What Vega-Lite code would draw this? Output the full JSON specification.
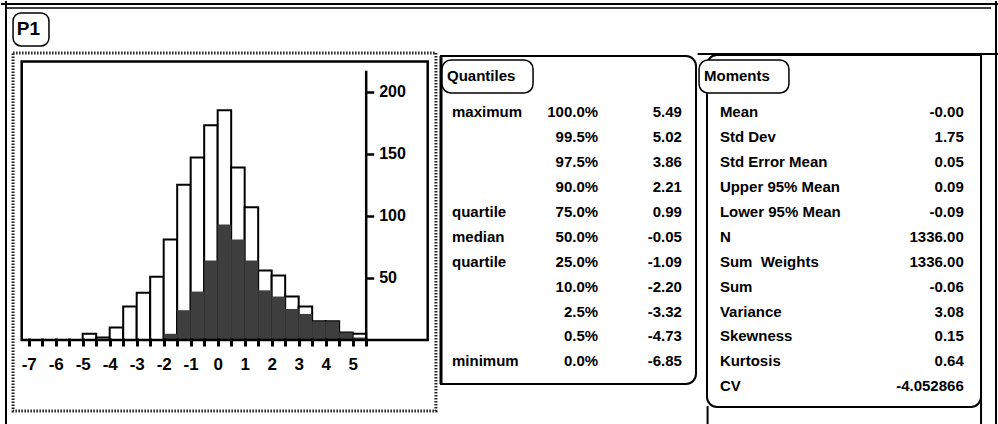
{
  "$schema": "https://vega.github.io/schema/vega-lite/v6.json",
  "width": 998,
  "height": 424,
  "autosize": {"type": "fit", "contains": "padding"},
  "padding": 0,
  "background": "white",
  "config": {
    "view": {"stroke": null},
    "font": "Liberation Sans",
    "mark": {"color": "black"},
    "text": {"font": "Liberation Sans", "color": "black"},
    "axis": {
      "labelFont": "Liberation Sans", "labelFontSize": 17, "labelFontWeight": "bold", "labelColor": "black",
      "tickColor": "black", "tickWidth": 3, "tickSize": 8,
      "domainColor": "black", "domainWidth": 2.5, "grid": false
    }
  },
  "datasets": {
    "hist": [
      {"bin_start": -5, "bin_end": -4.5, "count": 5, "shaded": 0},
      {"bin_start": -4.5, "bin_end": -4, "count": 2, "shaded": 0},
      {"bin_start": -4, "bin_end": -3.5, "count": 10, "shaded": 0},
      {"bin_start": -3.5, "bin_end": -3, "count": 27, "shaded": 0},
      {"bin_start": -3, "bin_end": -2.5, "count": 38, "shaded": 0},
      {"bin_start": -2.5, "bin_end": -2, "count": 51, "shaded": 0},
      {"bin_start": -2, "bin_end": -1.5, "count": 81, "shaded": 5},
      {"bin_start": -1.5, "bin_end": -1, "count": 125, "shaded": 24},
      {"bin_start": -1, "bin_end": -0.5, "count": 147, "shaded": 39},
      {"bin_start": -0.5, "bin_end": 0, "count": 173, "shaded": 64},
      {"bin_start": 0, "bin_end": 0.5, "count": 185, "shaded": 93},
      {"bin_start": 0.5, "bin_end": 1, "count": 139, "shaded": 81},
      {"bin_start": 1, "bin_end": 1.5, "count": 107, "shaded": 64},
      {"bin_start": 1.5, "bin_end": 2, "count": 56, "shaded": 40},
      {"bin_start": 2, "bin_end": 2.5, "count": 52, "shaded": 35},
      {"bin_start": 2.5, "bin_end": 3, "count": 35, "shaded": 25},
      {"bin_start": 3, "bin_end": 3.5, "count": 27, "shaded": 21},
      {"bin_start": 3.5, "bin_end": 4, "count": 15, "shaded": 15},
      {"bin_start": 4, "bin_end": 4.5, "count": 15, "shaded": 15},
      {"bin_start": 4.5, "bin_end": 5, "count": 6, "shaded": 6},
      {"bin_start": 5, "bin_end": 5.5, "count": 5, "shaded": 2}
    ],
    "quantiles": [
      {"i": 1, "label": "maximum", "pct": "100.0%", "value": "5.49"},
      {"i": 2, "label": "", "pct": "99.5%", "value": "5.02"},
      {"i": 3, "label": "", "pct": "97.5%", "value": "3.86"},
      {"i": 4, "label": "", "pct": "90.0%", "value": "2.21"},
      {"i": 5, "label": "quartile", "pct": "75.0%", "value": "0.99"},
      {"i": 6, "label": "median", "pct": "50.0%", "value": "-0.05"},
      {"i": 7, "label": "quartile", "pct": "25.0%", "value": "-1.09"},
      {"i": 8, "label": "", "pct": "10.0%", "value": "-2.20"},
      {"i": 9, "label": "", "pct": "2.5%", "value": "-3.32"},
      {"i": 10, "label": "", "pct": "0.5%", "value": "-4.73"},
      {"i": 11, "label": "minimum", "pct": "0.0%", "value": "-6.85"}
    ],
    "moments": [
      {"i": 1, "label": "Mean", "value": "-0.00"},
      {"i": 2, "label": "Std Dev", "value": "1.75"},
      {"i": 3, "label": "Std Error Mean", "value": "0.05"},
      {"i": 4, "label": "Upper 95% Mean", "value": "0.09"},
      {"i": 5, "label": "Lower 95% Mean", "value": "-0.09"},
      {"i": 6, "label": "N", "value": "1336.00"},
      {"i": 7, "label": "Sum\u00a0 Weights", "value": "1336.00"},
      {"i": 8, "label": "Sum", "value": "-0.06"},
      {"i": 9, "label": "Variance", "value": "3.08"},
      {"i": 10, "label": "Skewness", "value": "0.15"},
      {"i": 11, "label": "Kurtosis", "value": "0.64"},
      {"i": 12, "label": "CV", "value": "-4.052866"}
    ]
  },
  "layer": [
    {
      "data": {"name": "hist"},
      "mark": {"type": "rect", "fill": "white", "stroke": "black", "strokeWidth": 2},
      "encoding": {
        "x": {
          "field": "bin_start", "type": "quantitative",
          "scale": {"domain": [-7.26, 7.78], "range": [20.7, 426.7], "nice": false, "zero": false},
          "axis": {
            "orient": "bottom", "offset": -85, "title": null, "grid": false, "domain": false, "zindex": 2,
            "values": [-7, -6.5, -6, -5.5, -5, -4.5, -4, -3.5, -3, -2.5, -2, -1.5, -1, -0.5, 0, 0.5, 1, 1.5, 2, 2.5, 3, 3.5, 4, 4.5, 5, 5.5],
            "labelExpr": "datum.value % 1 === 0 ? toString(datum.value) : ''",
            "tickColor": "black", "tickWidth": 3, "tickSize": 8,
            "labelFont": "Liberation Sans", "labelFontSize": 17, "labelFontWeight": "bold", "labelColor": "black",
            "labelPadding": 10, "labelOverlap": false, "labelFlush": false
          }
        },
        "x2": {"field": "bin_end"},
        "y": {
          "field": "count", "type": "quantitative",
          "scale": {"domain": [0, 217.2], "range": [339, 69.3], "nice": false, "zero": false},
          "axis": {
            "orient": "right", "offset": -631.3, "title": null, "grid": false, "zindex": 2,
            "values": [50, 100, 150, 200],
            "domain": true, "domainColor": "black", "domainWidth": 2.5,
            "tickColor": "black", "tickWidth": 2.5, "tickSize": 8,
            "labelFont": "Liberation Sans", "labelFontSize": 16, "labelFontWeight": "bold", "labelColor": "black",
            "labelPadding": 5, "labelOverlap": false, "labelFlush": false
          }
        },
        "y2": {"datum": 0}
      }
    },
    {
      "data": {"name": "hist"},
      "transform": [{"filter": "datum.shaded > 0"}],
      "mark": {"type": "rect", "fill": "#3e3e3e"},
      "encoding": {
        "x": {"field": "bin_start", "type": "quantitative", "scale": {"domain": [-7.26, 7.78], "range": [20.7, 426.7], "nice": false, "zero": false}, "axis": null},
        "x2": {"field": "bin_end"},
        "y": {"field": "shaded", "type": "quantitative", "scale": {"domain": [0, 217.2], "range": [339, 69.3], "nice": false, "zero": false}, "axis": null},
        "y2": {"datum": 0}
      }
    },
    {
      "data": {"values": [{}]},
      "mark": {"type": "rect", "filled": false, "stroke": "black", "strokeWidth": 2.5},
      "encoding": {
        "x": {"datum": -7.26, "scale": {"domain": [-7.26, 7.78], "range": [20.7, 426.7], "nice": false, "zero": false}, "axis": null},
        "x2": {"datum": 7.78},
        "y": {"datum": 0, "scale": {"domain": [0, 217.2], "range": [339, 69.3], "nice": false, "zero": false}, "axis": null},
        "y2": {"datum": 224.2}
      }
    },
    {
      "data": {"values": [{}]},
      "mark": {"type": "rect", "filled": false, "stroke": "#222222", "strokeWidth": 3, "strokeDash": [1.5, 1.5]},
      "encoding": {
        "x": {"datum": -7.58, "scale": {"domain": [-7.26, 7.78], "range": [20.7, 426.7], "nice": false, "zero": false}, "axis": null},
        "x2": {"datum": 8.085},
        "y": {"datum": 231.2, "scale": {"domain": [0, 217.2], "range": [339, 69.3], "nice": false, "zero": false}, "axis": null},
        "y2": {"datum": -57.2}
      }
    },
    {
      "data": {"values": [{}]},
      "mark": {"type": "rect", "fill": "white", "stroke": "black", "strokeWidth": 1.5, "cornerRadius": 8},
      "encoding": {
        "x": {"datum": -7.58, "scale": {"domain": [-7.26, 7.78], "range": [20.7, 426.7], "nice": false, "zero": false}, "axis": null},
        "x2": {"datum": -6.25},
        "y": {"datum": 263.4, "scale": {"domain": [0, 217.2], "range": [339, 69.3], "nice": false, "zero": false}, "axis": null},
        "y2": {"datum": 236.8}
      }
    },
    {
      "data": {"values": [{}]},
      "mark": {"type": "text", "align": "left", "baseline": "middle", "fontSize": 19, "fontWeight": "bold", "font": "Liberation Sans"},
      "encoding": {
        "x": {"datum": -7.44, "scale": {"domain": [-7.26, 7.78], "range": [20.7, 426.7], "nice": false, "zero": false}, "axis": null},
        "y": {"datum": 250.1, "scale": {"domain": [0, 217.2], "range": [339, 69.3], "nice": false, "zero": false}, "axis": null},
        "text": {"value": "P1"}
      }
    },
    {
      "data": {"values": [{}]},
      "mark": {"type": "rect", "filled": false, "stroke": "black", "strokeWidth": 2, "cornerRadiusTopRight": 10, "cornerRadiusBottomRight": 10},
      "encoding": {
        "x": {"datum": 0, "scale": {"domain": [0, 1], "range": [440, 695], "nice": false, "zero": false}, "axis": null},
        "x2": {"datum": 1},
        "y": {"datum": -1.261, "scale": {"domain": [1, 12], "range": [111.3, 385.2], "nice": false, "zero": false}, "axis": null},
        "y2": {"datum": 11.912}
      }
    },
    {
      "data": {"values": [{}]},
      "mark": {"type": "rule", "stroke": "black", "strokeWidth": 3},
      "encoding": {
        "x": {"datum": 0, "scale": {"domain": [0, 1], "range": [440, 695], "nice": false, "zero": false}, "axis": null},
        "y": {"datum": -1.261, "scale": {"domain": [1, 12], "range": [111.3, 385.2], "nice": false, "zero": false}, "axis": null},
        "y2": {"datum": 11.912}
      }
    },
    {
      "data": {"values": [{}]},
      "mark": {"type": "rect", "fill": "white", "stroke": "black", "strokeWidth": 1.5, "cornerRadius": 9},
      "encoding": {
        "x": {"datum": 0.004, "scale": {"domain": [0, 1], "range": [440, 695], "nice": false, "zero": false}, "axis": null},
        "x2": {"datum": 0.361},
        "y": {"datum": -1.1, "scale": {"domain": [1, 12], "range": [111.3, 385.2], "nice": false, "zero": false}, "axis": null},
        "y2": {"datum": 0.225}
      }
    },
    {
      "data": {"values": [{}]},
      "mark": {"type": "text", "align": "left", "baseline": "middle", "fontSize": 15, "fontWeight": "bold"},
      "encoding": {
        "x": {"datum": 0.0235, "scale": {"domain": [0, 1], "range": [440, 695], "nice": false, "zero": false}, "axis": null},
        "y": {"datum": -0.438, "scale": {"domain": [1, 12], "range": [111.3, 385.2], "nice": false, "zero": false}, "axis": null},
        "text": {"value": "Quantiles"}
      }
    },
    {
      "data": {"name": "quantiles"},
      "mark": {"type": "text", "align": "left", "baseline": "middle", "fontSize": 15, "fontWeight": "bold"},
      "encoding": {
        "x": {"datum": 0.043, "scale": {"domain": [0, 1], "range": [440, 695], "nice": false, "zero": false}, "axis": null},
        "y": {"field": "i", "type": "quantitative", "scale": {"domain": [1, 12], "range": [111.3, 385.2], "nice": false, "zero": false}, "axis": null},
        "text": {"field": "label"}
      }
    },
    {
      "data": {"name": "quantiles"},
      "mark": {"type": "text", "align": "right", "baseline": "middle", "fontSize": 15, "fontWeight": "bold"},
      "encoding": {
        "x": {"datum": 0.616, "scale": {"domain": [0, 1], "range": [440, 695], "nice": false, "zero": false}, "axis": null},
        "y": {"field": "i", "type": "quantitative", "scale": {"domain": [1, 12], "range": [111.3, 385.2], "nice": false, "zero": false}, "axis": null},
        "text": {"field": "pct"}
      }
    },
    {
      "data": {"name": "quantiles"},
      "mark": {"type": "text", "align": "right", "baseline": "middle", "fontSize": 15, "fontWeight": "bold"},
      "encoding": {
        "x": {"datum": 0.945, "scale": {"domain": [0, 1], "range": [440, 695], "nice": false, "zero": false}, "axis": null},
        "y": {"field": "i", "type": "quantitative", "scale": {"domain": [1, 12], "range": [111.3, 385.2], "nice": false, "zero": false}, "axis": null},
        "text": {"field": "value"}
      }
    },
    {
      "data": {"values": [{}]},
      "mark": {"type": "rect", "filled": false, "stroke": "black", "strokeWidth": 2, "cornerRadiusTopLeft": 10, "cornerRadiusBottomLeft": 10, "cornerRadiusBottomRight": 10},
      "encoding": {
        "x": {"datum": 0, "scale": {"domain": [0, 1], "range": [706, 980], "nice": false, "zero": false}, "axis": null},
        "x2": {"datum": 1},
        "y": {"datum": -1.301, "scale": {"domain": [1, 12], "range": [111.3, 385.2], "nice": false, "zero": false}, "axis": null},
        "y2": {"datum": 12.835}
      }
    },
    {
      "data": {"values": [{}]},
      "mark": {"type": "rect", "fill": "white", "stroke": "black", "strokeWidth": 1.5, "cornerRadius": 9},
      "encoding": {
        "x": {"datum": -0.029, "scale": {"domain": [0, 1], "range": [706, 980], "nice": false, "zero": false}, "axis": null},
        "x2": {"datum": 0.299},
        "y": {"datum": -1.1, "scale": {"domain": [1, 12], "range": [111.3, 385.2], "nice": false, "zero": false}, "axis": null},
        "y2": {"datum": 0.225}
      }
    },
    {
      "data": {"values": [{}]},
      "mark": {"type": "text", "align": "left", "baseline": "middle", "fontSize": 15, "fontWeight": "bold"},
      "encoding": {
        "x": {"datum": -0.011, "scale": {"domain": [0, 1], "range": [706, 980], "nice": false, "zero": false}, "axis": null},
        "y": {"datum": -0.438, "scale": {"domain": [1, 12], "range": [111.3, 385.2], "nice": false, "zero": false}, "axis": null},
        "text": {"value": "Moments"}
      }
    },
    {
      "data": {"name": "moments"},
      "mark": {"type": "text", "align": "left", "baseline": "middle", "fontSize": 15, "fontWeight": "bold"},
      "encoding": {
        "x": {"datum": 0.047, "scale": {"domain": [0, 1], "range": [706, 980], "nice": false, "zero": false}, "axis": null},
        "y": {"field": "i", "type": "quantitative", "scale": {"domain": [1, 12], "range": [111.3, 385.2], "nice": false, "zero": false}, "axis": null},
        "text": {"field": "label"}
      }
    },
    {
      "data": {"name": "moments"},
      "mark": {"type": "text", "align": "right", "baseline": "middle", "fontSize": 15, "fontWeight": "bold"},
      "encoding": {
        "x": {"datum": 0.937, "scale": {"domain": [0, 1], "range": [706, 980], "nice": false, "zero": false}, "axis": null},
        "y": {"field": "i", "type": "quantitative", "scale": {"domain": [1, 12], "range": [111.3, 385.2], "nice": false, "zero": false}, "axis": null},
        "text": {"field": "value"}
      }
    },
    {
      "data": {"values": [{}]},
      "mark": {"type": "rule", "stroke": "black", "strokeWidth": 2},
      "encoding": {
        "x": {"datum": 0.005, "scale": {"domain": [0, 1], "range": [0, 998], "nice": false, "zero": false}, "axis": null},
        "y": {"datum": 0, "scale": {"domain": [0, 1], "range": [0, 424], "nice": false, "zero": false}, "axis": null},
        "y2": {"datum": 1}
      }
    },
    {
      "data": {"values": [{}]},
      "mark": {"type": "rule", "stroke": "black", "strokeWidth": 2},
      "encoding": {
        "x": {"datum": 0, "scale": {"domain": [0, 1], "range": [0, 998], "nice": false, "zero": false}, "axis": null},
        "x2": {"datum": 1},
        "y": {"datum": 0.0071, "scale": {"domain": [0, 1], "range": [0, 424], "nice": false, "zero": false}, "axis": null}
      }
    },
    {
      "data": {"values": [{}]},
      "mark": {"type": "rule", "stroke": "black", "strokeWidth": 1.5},
      "encoding": {
        "x": {"datum": 0.005, "scale": {"domain": [0, 1], "range": [0, 998], "nice": false, "zero": false}, "axis": null},
        "x2": {"datum": 0.992},
        "y": {"datum": 0.0165, "scale": {"domain": [0, 1], "range": [0, 424], "nice": false, "zero": false}, "axis": null}
      }
    },
    {
      "data": {"values": [{}]},
      "mark": {"type": "rule", "stroke": "black", "strokeWidth": 2},
      "encoding": {
        "x": {"datum": 0.997, "scale": {"domain": [0, 1], "range": [0, 998], "nice": false, "zero": false}, "axis": null},
        "y": {"datum": 0, "scale": {"domain": [0, 1], "range": [0, 424], "nice": false, "zero": false}, "axis": null},
        "y2": {"datum": 1}
      }
    },
    {
      "data": {"values": [{}]},
      "mark": {"type": "rule", "stroke": "black", "strokeWidth": 2},
      "encoding": {
        "x": {"datum": 0.698, "scale": {"domain": [0, 1], "range": [0, 998], "nice": false, "zero": false}, "axis": null},
        "x2": {"datum": 1},
        "y": {"datum": 0.125, "scale": {"domain": [0, 1], "range": [0, 424], "nice": false, "zero": false}, "axis": null}
      }
    },
    {
      "data": {"values": [{}]},
      "mark": {"type": "rule", "stroke": "black", "strokeWidth": 2},
      "encoding": {
        "x": {"datum": 0.982, "scale": {"domain": [0, 1], "range": [0, 998], "nice": false, "zero": false}, "axis": null},
        "y": {"datum": 0.125, "scale": {"domain": [0, 1], "range": [0, 424], "nice": false, "zero": false}, "axis": null},
        "y2": {"datum": 1}
      }
    },
    {
      "data": {"values": [{}]},
      "mark": {"type": "rule", "stroke": "black", "strokeWidth": 2},
      "encoding": {
        "x": {"datum": 0.708, "scale": {"domain": [0, 1], "range": [0, 998], "nice": false, "zero": false}, "axis": null},
        "y": {"datum": 0.955, "scale": {"domain": [0, 1], "range": [0, 424], "nice": false, "zero": false}, "axis": null},
        "y2": {"datum": 1}
      }
    }
  ],
  "resolve": {"scale": {"x": "independent", "y": "independent"}}
}
